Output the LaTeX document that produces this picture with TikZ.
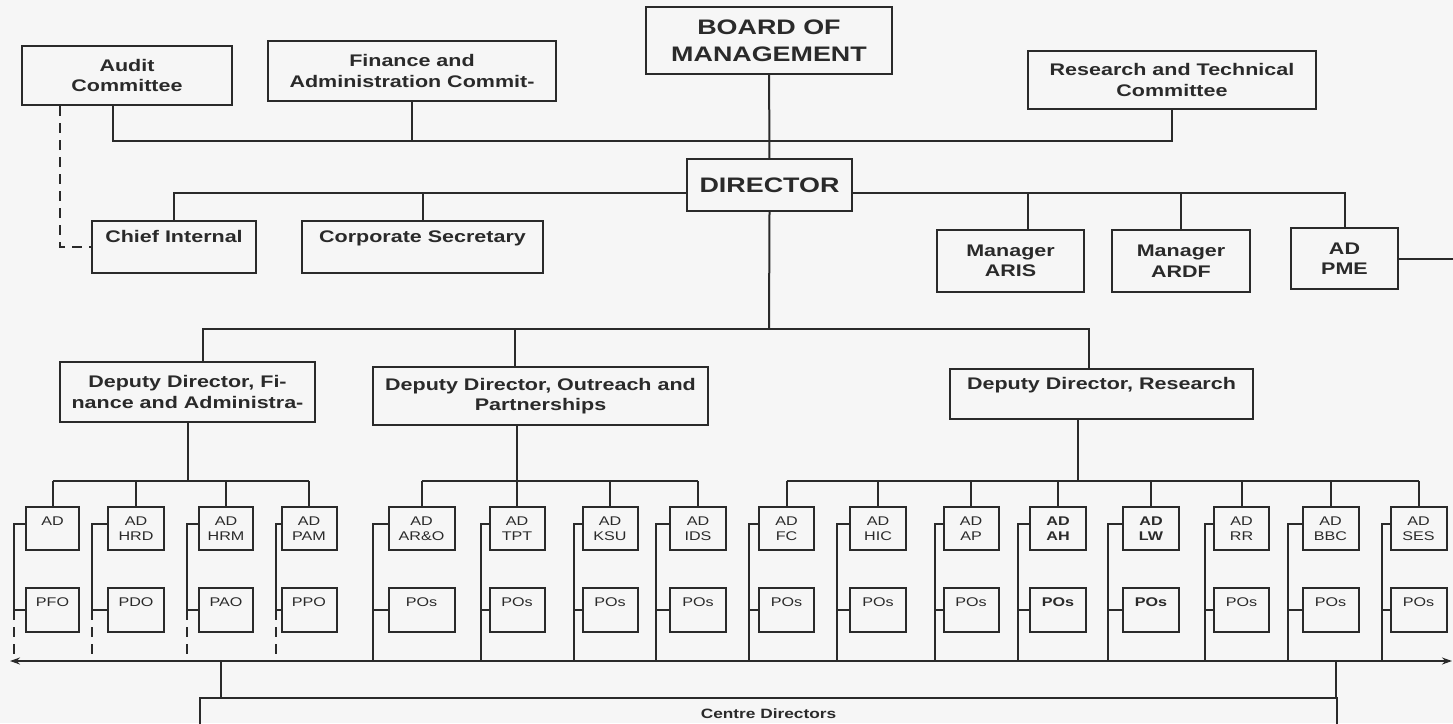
\documentclass[tikz,border=0pt]{standalone}
\usepackage{fontspec}
\setmainfont{Liberation Sans}[FakeStretch=1.28]
\usetikzlibrary{arrows.meta}

\definecolor{ink}{HTML}{2A2A2A}
\definecolor{paper}{HTML}{F6F6F6}

\newcommand{\fboard}{\fontsize{21}{27}\selectfont\bfseries}
\newcommand{\fmid}{\fontsize{16.8}{20.5}\selectfont\bfseries}
\newcommand{\fsmall}{\fontsize{12.6}{15}\selectfont}

\tikzset{
  unit/.style   = {shape = rectangle, draw = ink, text = ink, line width = 2pt, align = center, inner sep = 0pt},
  topbox/.style = {unit, font = \fmid},
  adbox/.style  = {unit, minimum height = 43pt},
  pobox/.style  = {unit, minimum height = 44pt},
  wire/.style   = {draw = ink, line width = 2pt},
  dotted link/.style = {wire, dash pattern = on 10pt off 7pt},
}

\begin{document}
\begin{tikzpicture}[x = 1pt, y = -1pt, >={Stealth[length = 10pt, width = 7pt]}]
        \useasboundingbox (0, 0) rectangle (1453, 723);
        \clip (0, 0) rectangle (1453, 723);
        \fill[paper] (0, 0) rectangle (1453, 723);

        % ------------------------------------------------------------------------
        % Board and committees
        \node[topbox, minimum width = 210pt, minimum height = 59pt] at (127, 75.5) (audit) {Audit\\Committee};
        \node[topbox, minimum width = 288pt, minimum height = 60pt] at (412, 71) (fac) {Finance and\\Administration Commit-};
        \node[unit, font = \fboard, minimum width = 246pt, minimum height = 67pt] at (769, 40.5) (board) {BOARD OF\\MANAGEMENT};
        \node[topbox, minimum width = 288pt, minimum height = 58pt] at (1172, 80) (rtc) {Research and Technical\\Committee};

        \coordinate (cbus) at (769, 141);

        % ------------------------------------------------------------------------
        % Director level
        \node[topbox, font = \fontsize{21}{25}\selectfont\bfseries, minimum width = 165pt, minimum height = 52pt] at (769.5, 185) (director) {DIRECTOR};
        \node[topbox, minimum width = 164pt, minimum height = 52pt] at (174, 247) (chief) {Chief Internal\\~};
        \node[topbox, minimum width = 241pt, minimum height = 52pt] at (422.5, 247) (corpsec) {Corporate Secretary\\~};
        \node[topbox, minimum width = 147pt, minimum height = 62pt] at (1010.5, 261) (aris) {Manager\\ARIS};
        \node[topbox, minimum width = 138pt, minimum height = 62pt] at (1181, 261) (ardf) {Manager\\ARDF};
        \node[topbox, minimum width = 107pt, minimum height = 61pt] at (1344.5, 258.5) (pme) {AD\\PME};

        \coordinate (dbus) at (769, 193);
        \coordinate (pmeout) at (1453, 258.5);

        \draw[wire] ([xshift = -14pt]audit.south) |- (cbus) -| (rtc.south);
        \draw[wire] (fac.south) -- (fac.south |- cbus);
        \draw[wire] (board) -- (director);
        \draw[dotted link] ([xshift = -67pt]audit.south) |- (chief.west);

        \draw[wire] (chief.north) |- (director.west |- dbus);
        \draw[wire] (corpsec.north) -- (corpsec.north |- dbus);
        \draw[wire] (director.east |- dbus) -| (pme.north);
        \draw[wire] ([xshift = 17pt]aris.north) -- ([xshift = 17pt]aris.north |- dbus);
        \draw[wire] (ardf.north) -- (ardf.north |- dbus);
        \draw[wire] (pme.east) -- (pmeout);

        % ------------------------------------------------------------------------
        % Deputy directors
        \node[topbox, minimum width = 255pt, minimum height = 60pt] at (187.5, 392) (ddfa) {Deputy Director, Fi-\\nance and Administra-};
        \node[topbox, minimum width = 335pt, minimum height = 58pt] at (540.5, 396) (ddop) {Deputy Director, Outreach and\\Partnerships};
        \node[topbox, minimum width = 303pt, minimum height = 50pt] at (1101.5, 394) (ddres) {Deputy Director, Research\\~};

        \coordinate (ddbus) at (769, 329);
        \coordinate (adbus) at (0, 481);

        \draw[wire] (director.south) -- (ddbus);
        \draw[wire] ([xshift = 15pt]ddfa.north) |- (ddbus) -| ([xshift = -13pt]ddres.north);
        \draw[wire] ([xshift = -26pt]ddop.north) -- ([xshift = -26pt]ddop.north |- ddbus);

        % ------------------------------------------------------------------------
        % Assistant directors and programme officers
        \foreach \i/\x/\sx/\w/\sub/\po in {1/52.5/14/53pt/~/PFO, 2/136/92/56pt/HRD/PDO,
                                           3/226/187/54pt/HRM/PAO, 4/309/276/55pt/PAM/PPO} {
          \node[adbox, font = \fsmall, minimum width = \w] at (\x, 528.5) (ad\i) {AD\\\sub};
          \node[pobox, font = \fsmall, minimum width = \w] at (\x, 610) (po\i) {\po\\~};
          \coordinate (sd\i) at (\sx, 661);
          \draw[wire] (ad\i.north) -- (ad\i.north |- adbus);
          \draw[wire] ([yshift = 4.5pt]ad\i.west) -| (po\i.west -| sd\i) -- (po\i.west);
          \draw[dotted link] (po\i.west -| sd\i) -- (sd\i);
        }

        \foreach \i/\x/\sx/\w/\fw/\sub in {5/421.5/373/66pt/\mdseries/AR\&O, 6/517/481/55pt/\mdseries/TPT,
                                           7/610/574/55pt/\mdseries/KSU, 8/698/656/56pt/\mdseries/IDS,
                                           9/786.5/749/55pt/\mdseries/FC, 10/878/837/56pt/\mdseries/HIC,
                                           11/971/935/55pt/\mdseries/AP, 12/1058/1018/56pt/\bfseries/AH,
                                           13/1151/1108/56pt/\bfseries/LW, 14/1241.5/1205/55pt/\mdseries/RR,
                                           15/1330.5/1288/56pt/\mdseries/BBC, 16/1418.5/1382/56pt/\mdseries/SES} {
          \node[adbox, font = \fsmall\fw, minimum width = \w] at (\x, 528.5) (ad\i) {AD\\\sub};
          \node[pobox, font = \fsmall\fw, minimum width = \w] at (\x, 610) (po\i) {POs\\~};
          \coordinate (sd\i) at (\sx, 661);
          \draw[wire] (ad\i.north) -- (ad\i.north |- adbus);
          \draw[wire] ([yshift = 4.5pt]ad\i.west) -| (sd\i);
          \draw[wire] (po\i.west) -- (po\i.west -| sd\i);
        }

        \draw[wire] (ad1.north |- adbus) -- (ad4.north |- adbus);
        \draw[wire] (ddfa.south) -- (ddfa.south |- adbus);
        \draw[wire] (ad5.north |- adbus) -- (ad8.north |- adbus);
        \draw[wire] ([xshift = -24pt]ddop.south) -- ([xshift = -24pt]ddop.south |- adbus);
        \draw[wire] (ad9.north |- adbus) -- (ad16.north |- adbus);
        \draw[wire] ([xshift = -24pt]ddres.south) -- ([xshift = -24pt]ddres.south |- adbus);

        % ------------------------------------------------------------------------
        % Centre directors
        \coordinate (busw) at (10, 661);
        \coordinate (buse) at (1452, 661);
        \draw[wire, <->] (busw) -- (buse);

        \node[unit, font = \fontsize{13.5}{16}\selectfont\bfseries, minimum width = 1137pt,
              text height = 20pt, text depth = 40pt, anchor = base] at (768.5, 718) (centre) {Centre Directors};

        \draw[wire] ([xshift = 22pt]centre.north west) -- ([xshift = 22pt]centre.north west |- busw);
        \draw[wire] ([xshift = -2pt]centre.north east) -- ([xshift = -2pt]centre.north east |- buse);
      \end{tikzpicture}
\end{document}
